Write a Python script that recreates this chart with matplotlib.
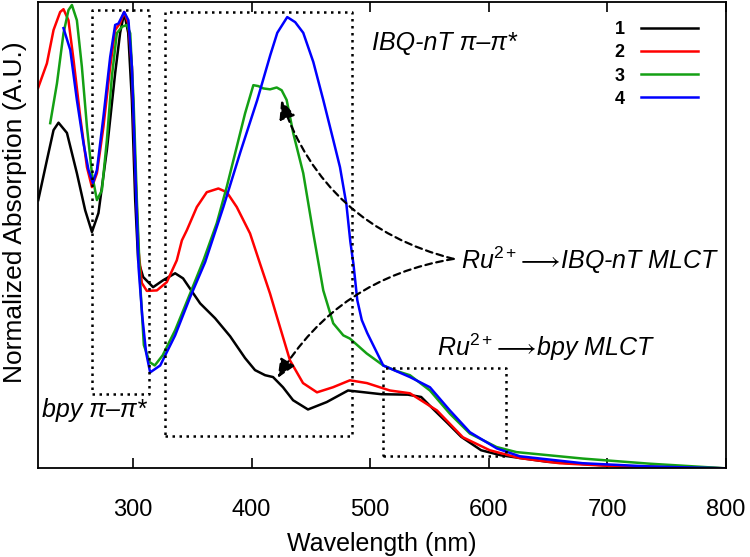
import matplotlib
matplotlib.use("Agg")
import matplotlib.pyplot as plt

plt.rcParams['font.family'] = ['Liberation Sans', 'DejaVu Sans']
plt.rcParams['mathtext.fontset'] = 'custom'
plt.rcParams['mathtext.rm'] = 'Liberation Sans'
plt.rcParams['mathtext.it'] = 'Liberation Sans:italic'

# spectra, wavelength (nm) and normalized absorption
wl_1 = [220, 227.3, 232.9, 237.1, 244.2, 252.6, 259.6, 265.3, 270.8, 277.9, 284.9, 289.1,
        292.5, 295.9, 299, 301.8, 304.3, 308.5, 316.9, 325.4, 335.5, 342.2, 350.7, 356.6,
        369.2, 381.9, 394.5, 402.9, 411.4, 418.1, 426.5, 435, 447.6, 463.4, 481.4, 495.5,
        509.4, 531.9, 543.1, 554.4, 565.6, 576.9, 593.7, 610.6, 650, 708, 800]
abs_1 = [0.579, 0.665, 0.730, 0.746, 0.724, 0.637, 0.557, 0.510, 0.551, 0.687, 0.853, 0.940,
         0.983, 0.940, 0.795, 0.579, 0.449, 0.413, 0.391, 0.406, 0.421, 0.410, 0.378, 0.356,
         0.324, 0.285, 0.238, 0.212, 0.201, 0.197, 0.175, 0.147, 0.127, 0.143, 0.168, 0.164,
         0.160, 0.159, 0.154, 0.125, 0.097, 0.068, 0.039, 0.028, 0.014, 0.005, 0.0]

wl_2 = [220, 227.3, 232.9, 238.5, 241.3, 245.5, 249.8, 255.4, 261.1, 265.3, 269.5, 275,
        280.7, 284.9, 289.1, 292.5, 295.9, 299, 301.8, 304.6, 307.4, 311.6, 320.1, 328.5,
        336.9, 341.2, 345.4, 353.8, 362.2, 372, 379.1, 387.5, 398.7, 407.1, 415.6, 421.5,
        432.4, 443.4, 455.2, 468.7, 483, 497.3, 516.7, 533.6, 556.4, 578.3, 601, 626.3,
        660, 710.6, 800]
abs_2 = [0.822, 0.874, 0.946, 0.985, 0.991, 0.967, 0.881, 0.759, 0.650, 0.607, 0.637, 0.737,
         0.867, 0.946, 0.961, 0.985, 0.961, 0.867, 0.650, 0.471, 0.400, 0.383, 0.384, 0.402,
         0.449, 0.492, 0.514, 0.564, 0.596, 0.604, 0.596, 0.564, 0.507, 0.442, 0.377, 0.326,
         0.233, 0.184, 0.164, 0.175, 0.190, 0.184, 0.168, 0.162, 0.125, 0.067, 0.039, 0.022,
         0.011, 0.004, 0.0]

wl_3 = [230.1, 235.8, 241.3, 245.5, 248.4, 252.6, 256.8, 261.1, 265.3, 269.5, 273.7, 277.9,
        282.1, 286.3, 290.6, 294.8, 297.6, 300.4, 303.2, 306, 309.1, 314.1, 318.3, 325,
        335.5, 348.1, 359.4, 370.6, 379.1, 387.5, 394.5, 401.5, 405.7, 409.9, 415.6, 421.2,
        425.4, 429.6, 435.2, 443.6, 452.1, 460.5, 468.9, 477.4, 483, 497.1, 511.1, 522.4,
        533.6, 550.5, 567.3, 584.2, 606.7, 623.5, 679.7, 735.9, 800]
abs_3 = [0.745, 0.831, 0.939, 0.989, 1.0, 0.967, 0.867, 0.737, 0.636, 0.579, 0.600, 0.708,
         0.845, 0.939, 0.953, 0.957, 0.939, 0.795, 0.579, 0.40, 0.266, 0.229, 0.222, 0.244,
         0.298, 0.377, 0.449, 0.529, 0.608, 0.694, 0.766, 0.827, 0.825, 0.820, 0.818, 0.822,
         0.816, 0.795, 0.723, 0.637, 0.507, 0.384, 0.313, 0.287, 0.280, 0.248, 0.222, 0.210,
         0.201, 0.168, 0.118, 0.075, 0.046, 0.035, 0.021, 0.010, 0.0]

wl_4 = [241.3, 247, 252.6, 258.2, 262.4, 266.1, 269.5, 275, 280.7, 284.9, 287.7, 292.5,
        296.1, 299, 301.8, 304.6, 307.7, 311, 314.4, 322.9, 335.5, 348.1, 360.8, 376.2,
        390.6, 404.8, 415.8, 421.7, 430.1, 436.8, 443.6, 452.1, 460.5, 469, 474.6, 480,
        483.3, 486, 489.2, 493, 497.6, 511.1, 533.6, 550.5, 567.3, 584.2, 606.9, 626.3,
        679.4, 736, 800]
abs_4 = [0.950, 0.903, 0.795, 0.701, 0.644, 0.616, 0.644, 0.759, 0.888, 0.957, 0.960, 0.985,
         0.967, 0.867, 0.651, 0.435, 0.33, 0.25, 0.207, 0.222, 0.287, 0.369, 0.445, 0.564,
         0.683, 0.795, 0.892, 0.940, 0.974, 0.963, 0.940, 0.877, 0.795, 0.708, 0.650, 0.57,
         0.49, 0.44, 0.363, 0.32, 0.292, 0.222, 0.197, 0.175, 0.125, 0.078, 0.043, 0.026,
         0.011, 0.004, 0.0]

series = [("1", wl_1, abs_1, "black"),
          ("2", wl_2, abs_2, "#ff0000"),
          ("3", wl_3, abs_3, "#14a014"),
          ("4", wl_4, abs_4, "#0000ff")]

# dotted boxes: (x0, x1, y0, y1)
boxes = [(265.3, 313.6, 0.160, 0.989),
         (327.1, 484.7, 0.070, 0.986),
         (511.1, 614.5, 0.027, 0.217)]

fig = plt.figure(figsize=(7.5, 5.57), dpi=100)
ax = fig.add_axes([0.051, 0.1592, 0.9165, 0.8372])

for name, x, y, c in series:
    ax.plot(x, y, color=c, lw=1.8, label=name)

for x0, x1, y0, y1 in boxes:
    ax.plot([x0, x1, x1, x0, x0], [y0, y0, y1, y1, y0], color="black", lw=1.8,
            ls=(0, (1, 1.8)))

ax.set_xlim(220, 800)
ax.set_ylim(0, 1.0065)
ax.set_xticks([300, 400, 500, 600, 700, 800])
ax.set_yticks([])
ax.tick_params(axis="x", direction="in", top=True, length=7, width=1.2, labelsize=17, pad=22)
for s in ax.spines.values():
    s.set_linewidth(1.3)

ax.set_xlabel("Wavelength (nm)", fontsize=18, labelpad=8)
ax.set_ylabel("Normalized Absorption (A.U.)", fontsize=19)
ax.yaxis.set_label_coords(-0.017, 0.549)

txt = dict(fontsize=18, style="italic", va="center")
ax.text(502.0, 0.918, "IBQ-nT π–π*", **txt)
ax.text(577.0, 0.449, r"Ru$^{\mathrm{2+}}\!\longrightarrow\!$IBQ-nT MLCT", **txt)
ax.text(556.5, 0.261, r"Ru$^{\mathrm{2+}}\!\longrightarrow\!$bpy MLCT", **txt)
ax.text(223.4, 0.125, "bpy π–π*", **txt)

arrow = dict(arrowstyle="-|>,head_length=0.8,head_width=0.35", color="black",
             lw=1.6, ls=(0, (3, 2)), shrinkA=0, shrinkB=0, mutation_scale=14)
ax.annotate("", xy=(425.0, 0.795), xytext=(570.5, 0.452),
            arrowprops=dict(connectionstyle="arc3,rad=-0.27", **arrow))
ax.annotate("", xy=(422.0, 0.195), xytext=(570.5, 0.452),
            arrowprops=dict(connectionstyle="arc3,rad=0.23", **arrow))

leg = ax.legend(loc="upper right", bbox_to_anchor=(0.97, 0.974), frameon=False,
                markerfirst=False, handlelength=3.15, handletextpad=0.9, labelspacing=0.34,
                prop=dict(weight="bold", size=13), borderaxespad=0)

fig.savefig("out.png", dpi=100)
